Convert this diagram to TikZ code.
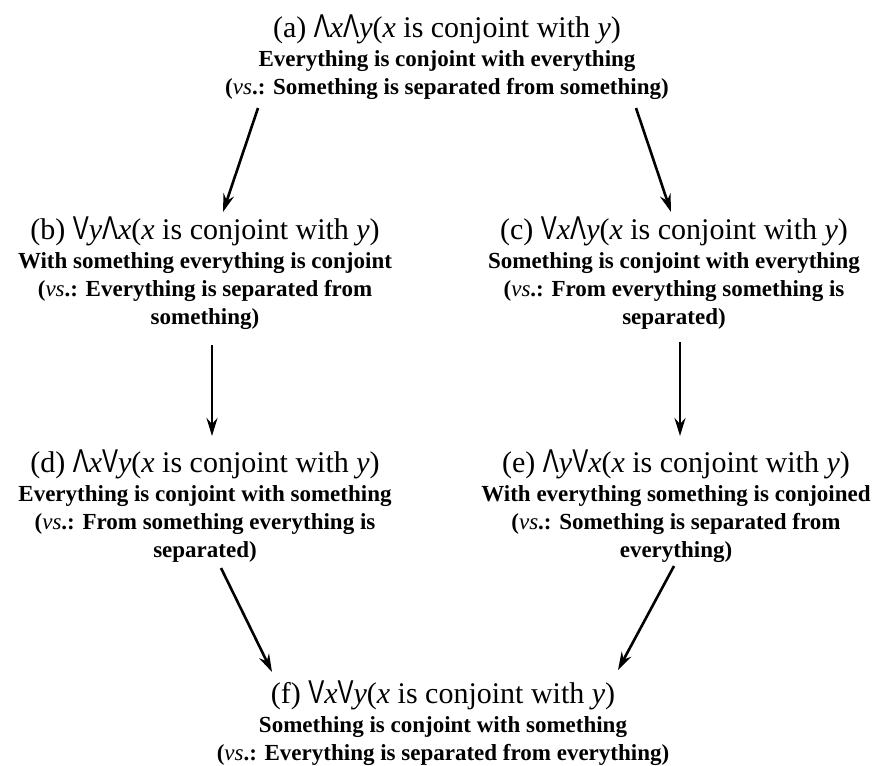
\documentclass[tikz,border=0pt]{standalone}
\usepackage{fontspec}
\usepackage{graphicx}
\usetikzlibrary{arrows.meta}
\setmainfont{Liberation Serif}
\newfontfamily\symfont{Liberation Sans}

% quantifier glyphs: tall, narrow sans wedge and vee
\newcommand\qAll{\scalebox{0.8}[1.1]{\symfont Λ}}
\newcommand\qSome{\scalebox{0.8}[1.1]{\symfont V}}
\newcommand\hd{\fontsize{30}{34}\selectfont\mdseries}
\newcommand\hstrut{\rule{0pt}{24pt}}
\newcommand\vsx{({\mdseries\itshape vs}.:}

\tikzset{
  stmt/.style={align=center, inner sep=0pt, outer sep=0pt, anchor=north,
    font=\fontsize{23}{28}\selectfont\bfseries},
  conn/.style={line width=2.6pt, -{Stealth[length=18pt,width=11pt,inset=6pt]}}
}

\begin{document}
\begin{tikzpicture}[x=1pt,y=-1pt]
\useasboundingbox[fill=white] (0,0) rectangle (896,765);

\node[stmt] (a) at (447,14)
  {{\hd\hstrut(a) \qAll\textit{x}\qAll\textit{y}(\textit{x} is conjoint with \textit{y})}\\[1pt]
   Everything is conjoint with everything\\
   \vsx{} Something is separated from something)};

\node[stmt] (b) at (205,215)
  {{\hd\hstrut(b) \qSome\textit{y}\qAll\textit{x}(\textit{x} is conjoint with \textit{y})}\\[1pt]
   With something everything is conjoint\\
   \vsx{} Everything is separated from\\
   something)};

\node[stmt] (c) at (674,215)
  {{\hd\hstrut(c) \qSome\textit{x}\qAll\textit{y}(\textit{x} is conjoint with \textit{y})}\\[1pt]
   Something is conjoint with everything\\
   \vsx{} From everything something is\\
   separated)};

\node[stmt] (d) at (205,448)
  {{\hd\hstrut(d) \qAll\textit{x}\qSome\textit{y}(\textit{x} is conjoint with \textit{y})}\\[1pt]
   Everything is conjoint with something\\
   \vsx{} From something everything is\\
   separated)};

\node[stmt] (e) at (676,448)
  {{\hd\hstrut(e) \qAll\textit{y}\qSome\textit{x}(\textit{x} is conjoint with \textit{y})}\\[1pt]
   With everything something is conjoined\\
   \vsx{} Something is separated from\\
   everything)};

\node[stmt] (f) at (443,679)
  {{\hd\hstrut(f) \qSome\textit{x}\qSome\textit{y}(\textit{x} is conjoint with \textit{y})}\\[1pt]
   Something is conjoint with something\\
   \vsx{} Everything is separated from everything)};

\draw[conn] ([shift={(-189,94)}]a.north) -- ([shift={(18,-3)}]b.north);
\draw[conn] ([shift={(189,94)}]a.north) -- ([shift={(-3,-3)}]c.north);
\draw[conn] ([shift={(7,130)}]b.north) -- ([shift={(7,-12)}]d.north);
\draw[conn] ([shift={(6,127)}]c.north) -- ([shift={(4,-12)}]e.north);
\draw[conn] ([shift={(16,120)}]d.north) -- ([shift={(-171,-7)}]f.north);
\draw[conn] ([shift={(-2,118)}]e.north) -- ([shift={(175,-9)}]f.north);
\end{tikzpicture}
\end{document}
